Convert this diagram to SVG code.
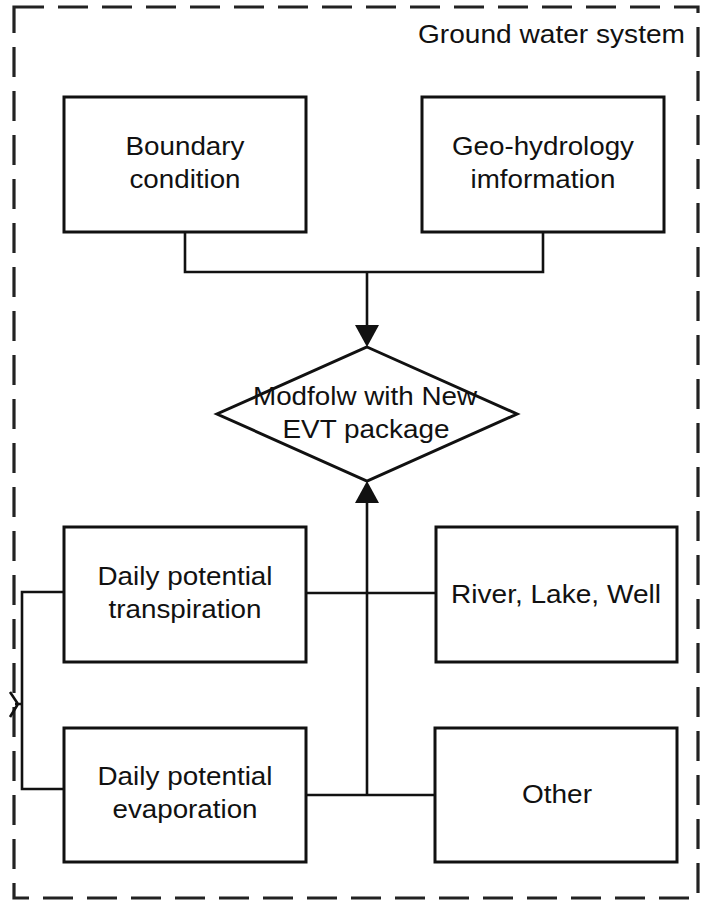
<svg xmlns="http://www.w3.org/2000/svg" width="703" height="902" viewBox="0 0 703 902">
<style>
.frame{fill:none;stroke:#222;stroke-width:3.2;stroke-dasharray:30 14}
.box{fill:#fff;stroke:#111;stroke-width:3}
.ln{fill:none;stroke:#111;stroke-width:2.6}
text{font-family:"Liberation Sans",Arial,sans-serif;font-size:26px;fill:#111}
.c{text-anchor:middle}
</style>
<rect class="frame" x="14" y="7" width="684" height="891"/>
<text id="title" x="685" y="43" text-anchor="end" textLength="267" lengthAdjust="spacingAndGlyphs">Ground water system</text>
<g id="connectors">
<path class="ln" d="M185,232 V272 H543 V232"/>
<path class="ln" d="M367,272 V325"/>
<path d="M355,325 L379,325 L367,347 Z" fill="#111"/>
<path class="ln" d="M367,795 V503"/>
<path d="M355,503 L379,503 L367,481 Z" fill="#111"/>
<path class="ln" d="M306,593 H436"/>
<path class="ln" d="M306,795 H435"/>
<path class="ln" d="M64,592 H22 V789 H64"/>
<path class="ln" d="M10,692 L18,704 L10,717 M15,704 H22"/>
</g>
<g id="boundary">
<rect class="box" x="64" y="97" width="242" height="135"/>
<text class="c" x="185" y="155" textLength="119" lengthAdjust="spacingAndGlyphs">Boundary</text>
<text class="c" x="185" y="188" textLength="111" lengthAdjust="spacingAndGlyphs">condition</text>
</g>
<g id="geo">
<rect class="box" x="422" y="97" width="242" height="135"/>
<text class="c" x="543" y="155" textLength="182" lengthAdjust="spacingAndGlyphs">Geo-hydrology</text>
<text class="c" x="543" y="188" textLength="145" lengthAdjust="spacingAndGlyphs">imformation</text>
</g>
<g id="modflow">
<polygon class="box" points="367,347 517,414 367,481 217,414"/>
<text class="c" x="365" y="405" textLength="224" lengthAdjust="spacingAndGlyphs">Modfolw with New</text>
<text class="c" x="366" y="438" textLength="167" lengthAdjust="spacingAndGlyphs">EVT package</text>
</g>
<g id="transpiration">
<rect class="box" x="64" y="527" width="242" height="135"/>
<text class="c" x="185" y="585" textLength="175" lengthAdjust="spacingAndGlyphs">Daily potential</text>
<text class="c" x="185" y="618" textLength="153" lengthAdjust="spacingAndGlyphs">transpiration</text>
</g>
<g id="river">
<rect class="box" x="436" y="527" width="241" height="135"/>
<text class="c" x="556" y="603" textLength="210" lengthAdjust="spacingAndGlyphs">River, Lake, Well</text>
</g>
<g id="evaporation">
<rect class="box" x="64" y="728" width="242" height="134"/>
<text class="c" x="185" y="785" textLength="175" lengthAdjust="spacingAndGlyphs">Daily potential</text>
<text class="c" x="185" y="818" textLength="145" lengthAdjust="spacingAndGlyphs">evaporation</text>
</g>
<g id="other">
<rect class="box" x="435" y="728" width="242" height="134"/>
<text class="c" x="557" y="803" textLength="70" lengthAdjust="spacingAndGlyphs">Other</text>
</g>
</svg>
